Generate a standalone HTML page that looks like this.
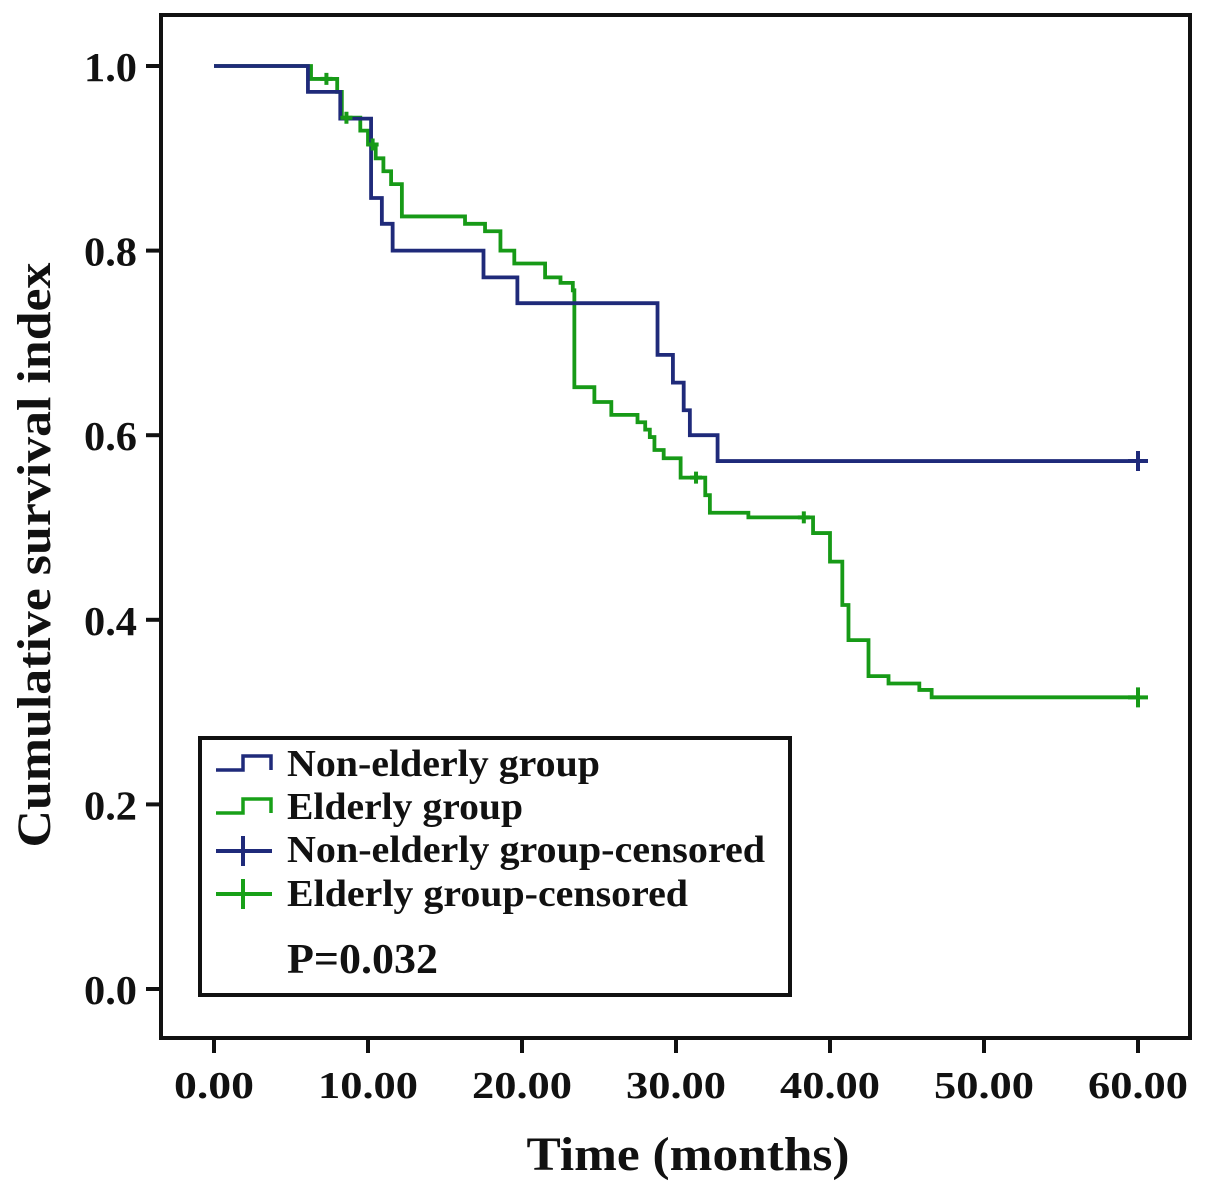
<!DOCTYPE html>
<html><head><meta charset="utf-8"><style>
html,body{margin:0;padding:0;background:#fff;}
svg{display:block;font-family:"Liberation Serif",serif;font-weight:bold;}
</style></head><body>
<svg id="chart" width="1205" height="1191" viewBox="0 0 1205 1191" xmlns="http://www.w3.org/2000/svg">
<rect x="161" y="15" width="1029" height="1023" fill="none" stroke="#111" stroke-width="4"/>
<g id="axes"></g>
<g id="series"></g>
<text transform="translate(50,555) rotate(-90)" text-anchor="middle" font-size="48" fill="#111" textLength="585" lengthAdjust="spacingAndGlyphs">Cumulative survival index</text>
<text x="688" y="1170" text-anchor="middle" font-size="48" fill="#111" textLength="323" lengthAdjust="spacingAndGlyphs">Time (months)</text>
<g>
<rect x="200" y="738" width="590" height="257" fill="#fff" stroke="#111" stroke-width="4"/>
<path d="M216 770 H243 V756 H271 V770" fill="none" stroke="#1f2a7a" stroke-width="3.5"/>
<text x="287" y="776" font-size="38" fill="#111" textLength="313" lengthAdjust="spacingAndGlyphs">Non-elderly group</text>
<path d="M216 813 H243 V799 H271 V813" fill="none" stroke="#18a018" stroke-width="3.5"/>
<text x="287" y="819" font-size="38" fill="#111" textLength="236" lengthAdjust="spacingAndGlyphs">Elderly group</text>
<path d="M216 851 H272 M243 836 V866" fill="none" stroke="#1f2a7a" stroke-width="4"/>
<text x="287" y="862" font-size="38" fill="#111" textLength="478" lengthAdjust="spacingAndGlyphs">Non-elderly group-censored</text>
<path d="M216 894 H272 M243 879 V909" fill="none" stroke="#18a018" stroke-width="4"/>
<text x="287" y="906" font-size="38" fill="#111" textLength="401" lengthAdjust="spacingAndGlyphs">Elderly group-censored</text>
<text x="287" y="973" font-size="42" fill="#111" textLength="151" lengthAdjust="spacingAndGlyphs">P=0.032</text>
</g>
</svg>
<script>
const xTicks=[0,10,20,30,40,50,60];
const xTickLabels=["0.00","10.00","20.00","30.00","40.00","50.00","60.00"];
const yTicks=[0,0.2,0.4,0.6,0.8,1.0];
const yTickLabels=["0.0","0.2","0.4","0.6","0.8","1.0"];
const nonElderlyTimes=[0,6.1,8.2,10.2,10.9,11.6,17.5,19.7,28.8,29.8,30.5,30.9,32.7,60];
const nonElderlySurv=[1.0,0.972,0.943,0.857,0.829,0.800,0.771,0.743,0.687,0.657,0.627,0.600,0.572,0.572];
const elderlyTimes=[0,6.3,8.0,8.3,9.5,10.0,10.5,11.0,11.5,12.2,16.3,17.6,18.6,19.5,21.5,22.5,23.3,23.4,24.7,25.8,27.5,28.0,28.3,28.6,29.2,30.3,31.9,32.2,34.7,38.9,40.0,40.8,41.2,42.5,43.8,45.8,46.6,60];
const elderlySurv=[1.0,0.986,0.972,0.944,0.93,0.915,0.90,0.886,0.872,0.837,0.829,0.821,0.80,0.786,0.771,0.765,0.757,0.652,0.636,0.622,0.614,0.606,0.598,0.584,0.575,0.554,0.535,0.516,0.511,0.494,0.463,0.416,0.378,0.339,0.331,0.324,0.316,0.316];
const nonElderlyCensorT=[60];
const nonElderlyCensorS=[0.572];
const elderlyCensorT=[7.3,8.6,10.3,31.3,38.3,60];
const elderlyCensorS=[0.986,0.944,0.915,0.554,0.511,0.316];

const NS="http://www.w3.org/2000/svg";
function xs(t){return 214+t*(1138-214)/60;}
function ys(s){return 989-s*(989-66);}
const axes=document.getElementById('axes');
const ser=document.getElementById('series');
function mk(tag,attrs,parent){const e=document.createElementNS(NS,tag);for(const k in attrs)e.setAttribute(k,attrs[k]);parent.appendChild(e);return e;}
xTicks.forEach((t,i)=>{
  const l=mk('line',{x1:xs(t),x2:xs(t),y1:1038,y2:1053,stroke:'#111','stroke-width':4},axes);
  
  
  const w=xTickLabels[i].length*20;
  const tx=mk('text',{x:xs(t),y:1098,'text-anchor':'middle','font-size':38,fill:'#111',textLength:w,lengthAdjust:'spacingAndGlyphs'},axes);
  tx.textContent=xTickLabels[i];
  
  
});
yTicks.forEach((v,i)=>{
  const l=mk('line',{x1:146,x2:161,y1:ys(v),y2:ys(v),stroke:'#111','stroke-width':4},axes);
  
  
  const tx=mk('text',{x:137,y:ys(v)+15,'text-anchor':'end','font-size':41,fill:'#111',textLength:53,lengthAdjust:'spacingAndGlyphs'},axes);
  tx.textContent=yTickLabels[i];
  
  
});
function stepPath(T,S){let d='M'+xs(T[0])+' '+ys(S[0]);for(let i=1;i<T.length;i++){d+=' H'+xs(T[i])+' V'+ys(S[i]);}return d;}
const pg=mk('path',{d:stepPath(elderlyTimes,elderlySurv),fill:'none',stroke:'#179a17','stroke-width':3.8},ser);


const pb=mk('path',{d:stepPath(nonElderlyTimes,nonElderlySurv),fill:'none',stroke:'#1f2a7a','stroke-width':3.8},ser);


function censor(T,S,color,name){
  T.forEach((t,i)=>{
    const h=(t>=59)?10:6;
    const p=mk('path',{d:'M'+(xs(t)-h)+' '+ys(S[i])+' H'+(xs(t)+h)+' M'+xs(t)+' '+(ys(S[i])-h)+' V'+(ys(S[i])+h),stroke:color,'stroke-width':4,fill:'none'},ser);
    
    
  });
}
censor(elderlyCensorT,elderlyCensorS,'#179a17','elderly-censor-mark');
censor(nonElderlyCensorT,nonElderlyCensorS,'#1f2a7a','non-elderly-censor-mark');
</script>
</body></html>
